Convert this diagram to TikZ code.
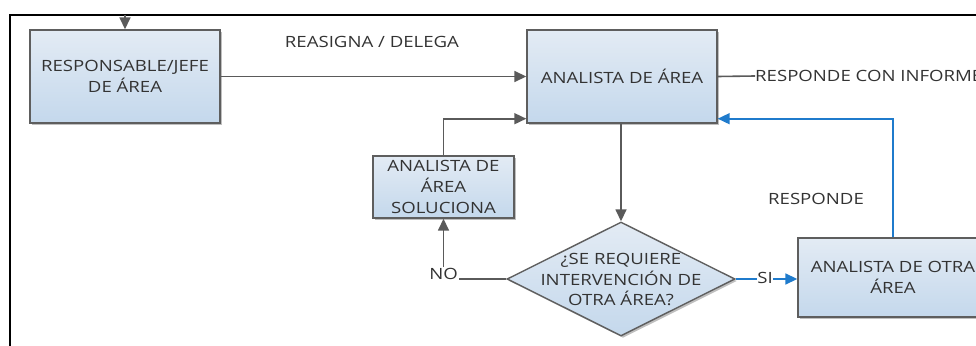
\documentclass[tikz,border=0pt]{standalone}
\usepackage{fontspec}
\setmainfont[FakeStretch=1.2]{Open Sans}
\usetikzlibrary{shapes.geometric,arrows.meta,shadows}
\definecolor{boxtop}{HTML}{E3EBF4}
\definecolor{boxbot}{HTML}{C4D8EC}
\definecolor{edge}{HTML}{5E5E5E}
\definecolor{txt}{HTML}{333333}
\definecolor{bl}{HTML}{1F7BCC}
\definecolor{ln}{HTML}{5A5A5A}
\tikzset{
  boxstyle/.style={draw=edge, line width=1.4pt, top color=boxtop, bottom color=boxbot,
    align=center, text=txt, inner sep=0pt, font=\fontsize{15.5}{21.5}\selectfont,
    drop shadow={shadow xshift=2pt, shadow yshift=-2pt, opacity=0.25, fill=black}},
  diastyle/.style={boxstyle, shape=diamond, minimum width=228pt, minimum height=114pt},
  lbl/.style={text=txt, font=\fontsize{15.5}{21}\selectfont, inner sep=1pt},
  conn/.style={draw=ln, line width=1.6pt},
  arr/.style={conn, -{Triangle[length=12pt,width=11pt]}},
  barr/.style={draw=bl, line width=1.6pt, -{Triangle[length=12pt,width=11pt]}},
}
\begin{document}
\begin{tikzpicture}[x=1pt,y=-1pt]
\useasboundingbox (0,0) rectangle (976,345);
\clip (0,0) rectangle (976,345);
\fill[white] (0,0) rectangle (976,345);
% frame
\draw[black, line width=2pt] (9.5,350) -- (9.5,15) -- (990,15);
% nodes
\node[boxstyle, minimum width=190pt, minimum height=93pt] (resp) at (125,76.5) {RESPONSABLE/JEFE\\DE ÁREA};
\node[boxstyle, minimum width=190pt, minimum height=93pt] (anal) at (622,76.5) {ANALISTA DE ÁREA};
\node[boxstyle, minimum width=141pt, minimum height=62pt, font=\fontsize{15.5}{21}\selectfont] (sol) at (443.5,187) {ANALISTA DE\\ÁREA\\SOLUCIONA};
\node[diastyle] (dia) at (621,279) {};
\node[lbl, align=center, font=\fontsize{15.5}{20.5}\selectfont] (diatext) at (621,279.5) {¿SE REQUIERE\\INTERVENCIÓN DE\\OTRA ÁREA?};
\node[boxstyle, minimum width=190pt, minimum height=79pt] (otra) at (893,277.5) {ANALISTA DE OTRA\\ÁREA};
% labels
\node[lbl] (reasigna) at (372,42) {REASIGNA / DELEGA};
\node[lbl, anchor=west, inner sep=0pt] (informe) at (755,76) {RESPONDE CON INFORME};
\node[lbl] (responde) at (816,199) {RESPONDE};
\node[lbl, fill=white] (no) at (443.5,274) {NO};
\node[lbl, fill=white, inner sep=0.5pt] (si) at (765,278) {SI};
\coordinate (topin) at (125,15);
% connectors
\draw[arr] (topin) -- (resp.north);
\draw[arr] (resp.east) -- (anal.west);
\draw[conn] (anal.east) -- (informe.west);
\draw[arr] (sol.north) |- ([yshift=5pt]anal.south west);
\draw[arr] (anal.south -| dia.north) -- (dia.north);
\draw[conn] (dia.west) -- (no.east |- dia.west);
\draw[arr] (no.north) -- (sol.south);
\draw[draw=bl, line width=1.6pt] (dia.east) -- (si.west |- dia.east);
\draw[barr] (si.east |- dia.east) -- (otra.west |- dia.east);
\draw[barr] (otra.north) |- ([yshift=5pt]anal.south east);
\end{tikzpicture}
\end{document}
